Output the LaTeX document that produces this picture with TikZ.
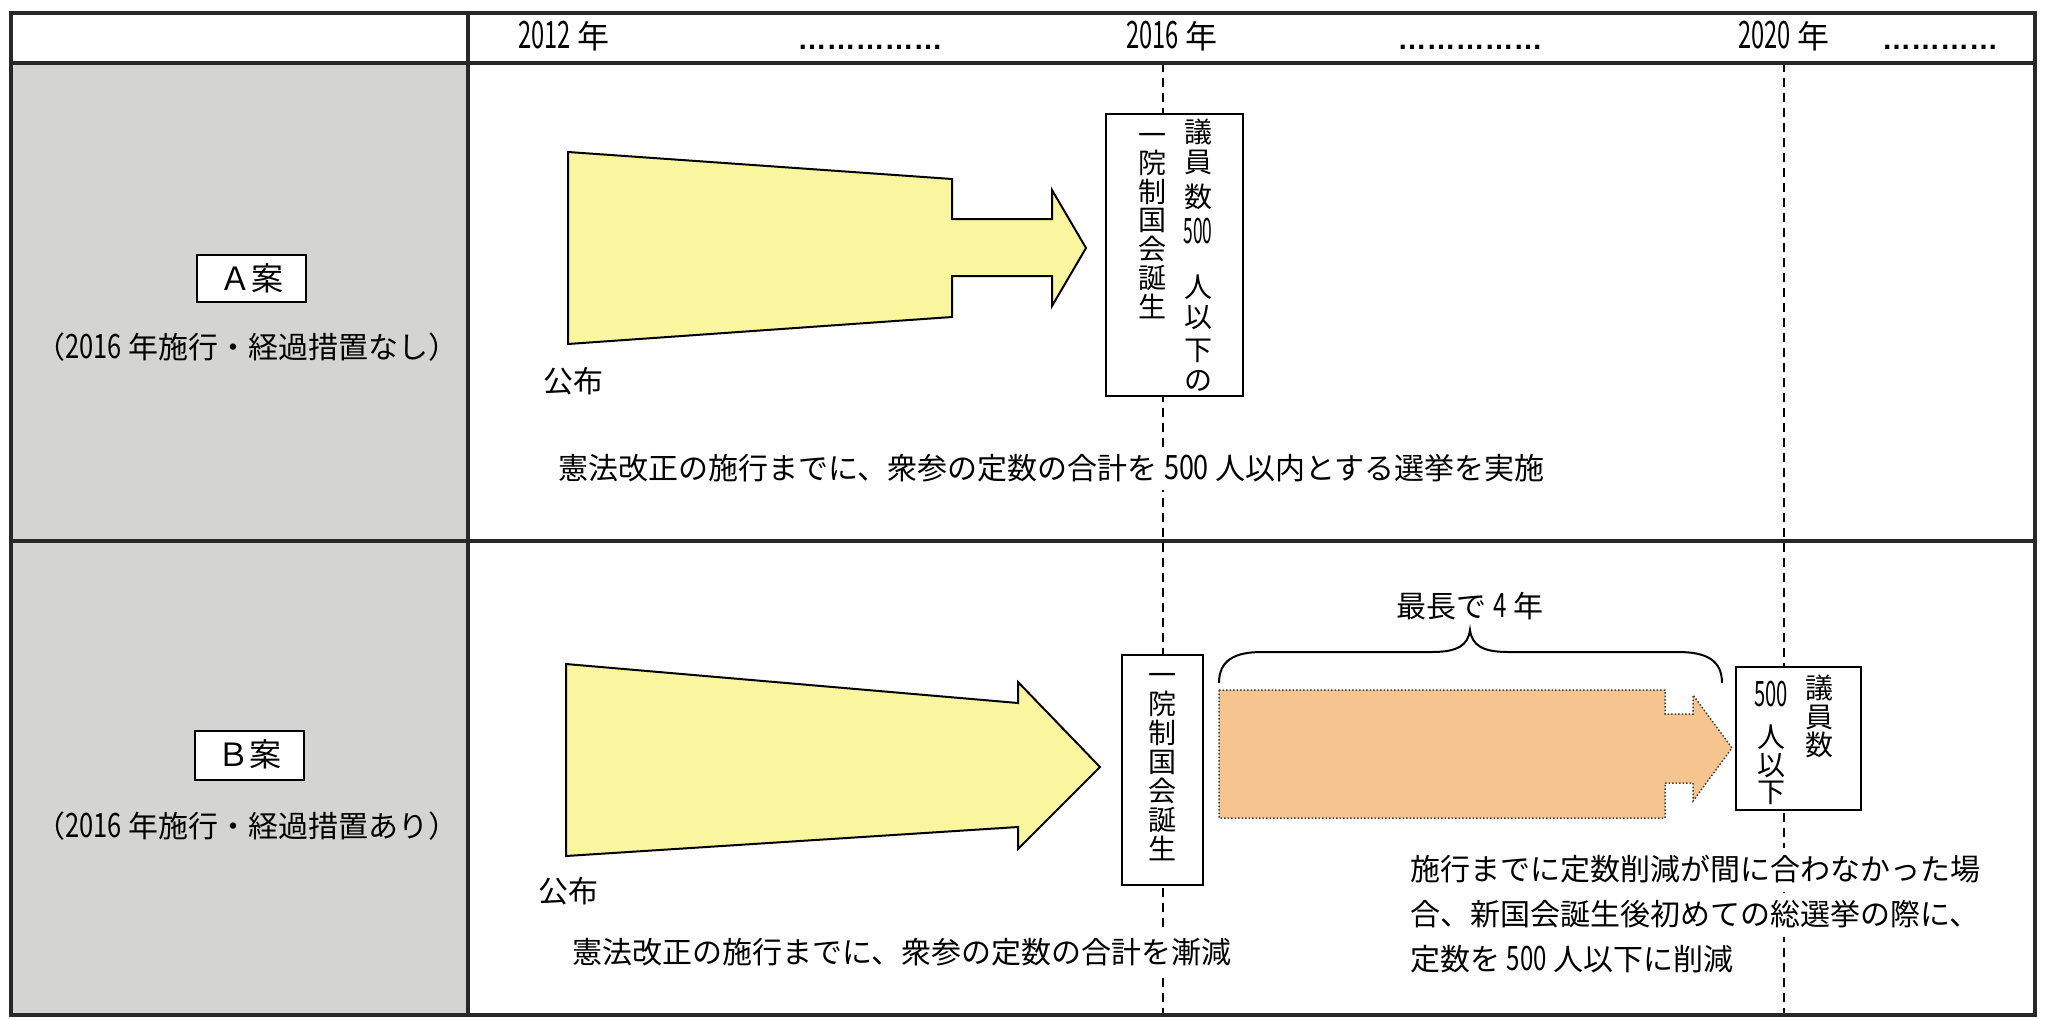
\documentclass[tikz,border=0pt]{standalone}
\usepackage{fontspec}
\usepackage{graphicx}
\setmainfont{Noto Sans CJK JP}
\newfontfamily\latinf{Liberation Sans}
\newcommand\nar[2][0.8]{\scalebox{#1}[1.12]{#2}}
\newcommand\hnar[1]{\scalebox{0.74}[1.18]{#1}}
\newcommand\fivA{\scalebox{0.62}[1.25]{500}}
\newcommand\fivB{\scalebox{0.72}[1.25]{500}}
\definecolor{cellgrey}{RGB}{212,213,210}
\definecolor{tblline}{RGB}{40,40,40}
\definecolor{yfill}{RGB}{250,246,160}
\definecolor{ofill}{RGB}{246,196,142}
\tikzset{
  tbl/.style={line width=3.5pt,draw=tblline},
  dashline/.style={line width=1.6pt,dash pattern=on 9pt off 6pt,draw=black},
  hdr/.style={font=\fontsize{32}{36}\selectfont,inner sep=0pt,text height=25.6pt,text depth=2.6pt},
  dots/.style={font=\latinf\bfseries\fontsize{29}{32}\selectfont,inner sep=0pt,anchor=base},
  planbox/.style={draw=black,line width=2pt,fill=white,inner sep=0pt,font=\fontsize{32}{36}\selectfont,text height=25.6pt,text depth=2.6pt},
  sub/.style={font=\fontsize{30}{34}\selectfont,inner sep=0pt,text height=24pt,text depth=2.4pt},
  body/.style={font=\fontsize{30}{36}\selectfont,inner xsep=2pt,inner ysep=8pt,text height=24pt,text depth=2.4pt,fill=white},
  vbox/.style={draw=black,line width=2.2pt,fill=white,inner sep=0pt},
  vch/.style={font=\fontsize{28}{30}\selectfont,inner sep=0pt,text height=22.4pt,text depth=2.2pt},
  yarrow/.style={draw=black,line width=2pt,fill=yfill,line join=miter},
  oarrow/.style={draw=black!75,line width=1.5pt,dotted,fill=ofill},
}
\begin{document}
\begin{tikzpicture}[x=1pt,y=-1pt]
\useasboundingbox (0,0) rectangle (2045,1018);
\fill[white] (0,0) rectangle (2045,1018);
% grey label column
\fill[cellgrey] (11,63) rectangle (468,1015);
% timeline dashed lines
\coordinate (d16t) at (1163,63); \coordinate (d16b) at (1163,1015);
\coordinate (d20t) at (1784,63); \coordinate (d20b) at (1784,1015);
\draw[dashline] (d16t) -- (d16b);
\draw[dashline] (d20t) -- (d20b);
% table
\draw[tbl] (11,13) rectangle (2035,1015);
\draw[tbl] (11,63) -- (2035,63);
\draw[tbl] (11,541) -- (2035,541);
\draw[tbl] (468,13) -- (468,1015);
% header
\node[hdr] (y12) at (564,37) {\hnar{2012} 年};
\node[dots] (dt1) at (870,49) {……………};
\node[hdr] (y16) at (1172,37) {\hnar{2016} 年};
\node[dots] (dt2) at (1470,49) {……………};
\node[hdr] (y20) at (1784,37) {\hnar{2020} 年};
\node[dots] (dt3) at (1940,49) {…………};
% plan labels
\node[planbox,minimum width=109pt,minimum height=47pt] (pa) at (251.5,278.5) {Ａ案};
\node[sub] (suba) at (247,348) {（\nar[0.85]{2016} 年施行・経過措置なし）};
\node[planbox,minimum width=109pt,minimum height=49pt] (pb) at (249,755) {Ｂ案};
\node[sub] (subb) at (247,827) {（\nar[0.85]{2016} 年施行・経過措置あり）};
% ---- Row A ----
\draw[yarrow] (568,152) -- (952,179) -- (952,219) -- (1052,219) -- (1052,190) -- (1086,248)
  -- (1052,306) -- (1052,276) -- (952,276) -- (952,317) -- (568,344) -- cycle;
\node[sub] (kofua) at (573,382) {公布};
\node[vbox,minimum width=137pt,minimum height=282pt] (boxa) at (1174.5,255) {};
\foreach \t/\yy [count=\i] in {一/135,院/163,制/192,国/220,会/249,誕/278,生/307}
  \node[vch] (aL\i) at (1152,\yy) {\t};
\foreach \t/\yy [count=\i] in {議/132,員/162,数/197,\fivA/233,人/287,以/317,下/350,の/380}
  \node[vch] (aR\i) at (1198,\yy) {\t};
\node[body,anchor=west] (texta) at (556,469) {憲法改正の施行までに、衆参の定数の合計を \nar[0.9]{500} 人以内とする選挙を実施};
% ---- Row B ----
\draw[yarrow] (566,664) -- (1018,703) -- (1018,682) -- (1100,767) -- (1018,849) -- (1018,827)
  -- (566,856) -- cycle;
\node[sub] (kofub) at (568,892) {公布};
\node[vbox,minimum width=81pt,minimum height=230pt] (boxb1) at (1162.5,770) {};
\foreach \t/\yy [count=\i] in {一/675,院/704,制/733,国/762,会/791,誕/820,生/849}
  \node[vch] (bA\i) at (1162,\yy) {\t};
\draw[oarrow] (1219,690) -- (1665,690) -- (1665,714) -- (1693,714) -- (1693,695) -- (1732,748)
  -- (1693,801) -- (1693,783) -- (1665,783) -- (1665,818) -- (1219,818) -- cycle;
\draw[line width=2pt] (1219,683) .. controls (1219,660) and (1235,652) .. (1262,652)
  -- (1432,652) .. controls (1458,652) and (1468,645) .. (1470,630)
  .. controls (1472,645) and (1482,652) .. (1508,652)
  -- (1678,652) .. controls (1706,652) and (1722,660) .. (1722,683);
\node[sub] (maxlab) at (1470,607) {最長で \nar{4} 年};
\node[vbox,minimum width=125pt,minimum height=143pt] (boxb2) at (1798.5,738.5) {};
\foreach \t/\yy [count=\i] in {議/688,員/717,数/745}
  \node[vch] (bR\i) at (1819,\yy) {\t};
\foreach \t/\yy [count=\i] in {\fivB/696,人/737,以/765,下/792}
  \node[vch] (bL\i) at (1771,\yy) {\t};
\node[body,anchor=west] (textb) at (570,953) {憲法改正の施行までに、衆参の定数の合計を漸減};
\node[body,anchor=west,inner xsep=0pt,inner ysep=9pt] (tr1) at (1410,870) {施行までに定数削減が間に合わなかった場};
\node[body,anchor=west,inner xsep=0pt,inner ysep=9pt] (tr2) at (1410,915) {合、新国会誕生後初めての総選挙の際に、};
\node[body,anchor=west,inner xsep=0pt,inner ysep=9pt] (tr3) at (1410,960) {定数を \nar{500} 人以下に削減};
\end{tikzpicture}
\end{document}
